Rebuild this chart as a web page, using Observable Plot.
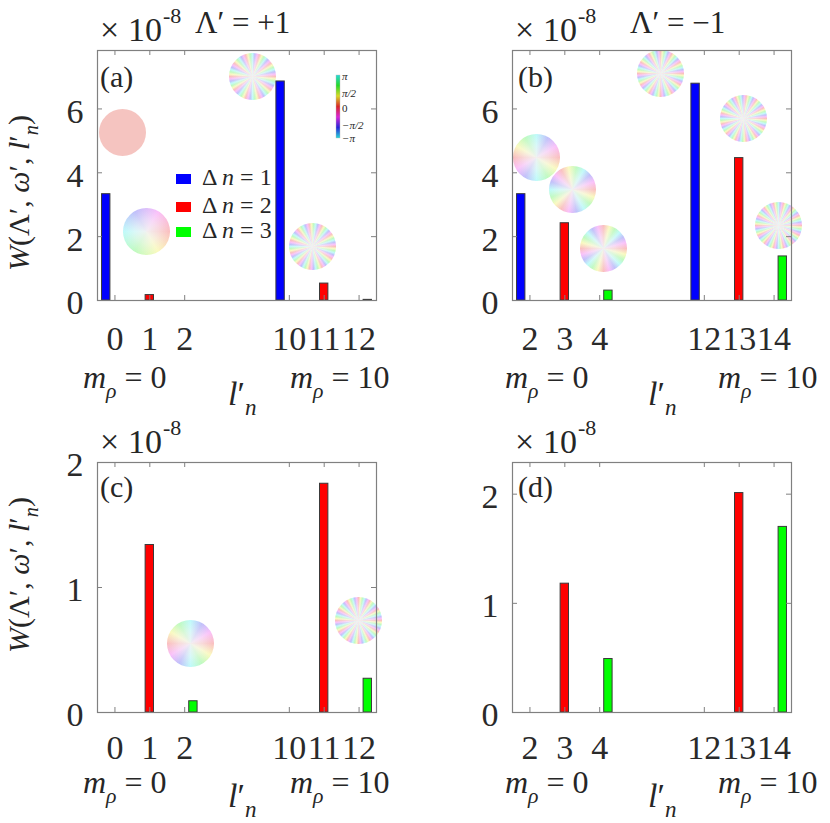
<!DOCTYPE html>
<html><head><meta charset="utf-8">
<script src="https://cdn.jsdelivr.net/npm/d3@7"></script>
<script src="https://cdn.jsdelivr.net/npm/@observablehq/plot@0.6"></script>
<style>
body{margin:0;background:#fff;}
#root{position:relative;width:830px;height:823px;overflow:hidden;font-family:'Liberation Serif';}
#root svg.pl{position:absolute;}
#root .wheel{position:absolute;border-radius:50%;filter:blur(0.4px);}
#overlay{position:absolute;left:0;top:0;}
</style></head><body><div id="root"></div>
<script>
const FONT = "'Liberation Serif'";
// ---------- data (W in units of 1e-8) ----------
const ticksPlus  = ["0","1","2","10","11","12"];   // l'_n for Λ' = +1
const ticksMinus = ["2","3","4","12","13","14"];   // l'_n for Λ' = -1
const slot = [1,2,3,6,7,8];                         // category slot of each l'_n
const deltaN = [1,2,3,1,2,3];                       // Δn of the bar at each l'_n
const wA = [3.33,0.17,0.00,6.86,0.53,0.02];
const wB = [3.33,2.42,0.31,6.79,4.46,1.38];
const wC = [0.00,1.34,0.09,0.00,1.83,0.27];
const wD = [0.00,1.18,0.49,0.00,2.01,1.70];
const yTicksAB = [0,2,4,6];
const yTicksC = [0,1,2];
const yTicksD = [0,1,2];
const seriesNames = ["Δn = 1","Δn = 2","Δn = 3"];
const seriesColors = ["#0000ff","#ff0000","#00ff00"];
// phase-wheel insets: winding number = l'_n
const wheelsA = [{x:1.24,y:5.25,w:0},{x:1.93,y:2.14,w:1},{x:4.96,y:7.0,w:10},{x:6.67,y:1.67,w:11}];
const wheelsB = [{x:1.21,y:4.47,w:2},{x:2.24,y:3.46,w:3},{x:3.13,y:1.6,w:4},{x:4.76,y:7.1,w:12},{x:7.13,y:5.7,w:13},{x:8.13,y:2.33,w:14}];
const wheelsC = [{x:3.19,y:0.55,w:2},{x:8.01,y:0.73,w:12}];
const wheelsD = [];

function wheelBackground(w){
  if(w===0) return "rgb(245,196,192)";
  const stops=[];
  const n=w*6;
  for(let k=0;k<=n;k++){
    const h=(k*60)%360;
    stops.push(`hsla(${h},100%,50%,0.26) ${(k/n*360).toFixed(2)}deg`);
  }
  return `radial-gradient(circle, rgba(242,242,242,0.95) 0%, rgba(246,246,246,0.55) 35%, rgba(255,255,255,0) 78%), conic-gradient(from 90deg, ${stops.join(",")}), #f9f9f9`;
}

const root=document.getElementById("root");
function panel({values,labels,yMax,yTicks,wheels,ox,oy,height,marginTop,pad}){
  const data=values.map((v,i)=>({slot:slot[i],dn:deltaN[i],v})).filter(d=>d.v>0);
  const fh=250;
  const chart=Plot.plot({
    width:415,height,marginLeft:97,marginRight:39,marginTop,marginBottom:height-marginTop-fh,
    x:{domain:[0.5,8.5],axis:null},y:{domain:[0,yMax],axis:null},
    style:`font-family:${FONT};background:transparent;overflow:visible;`,
    marks:[
      Plot.rectY(data,{x1:d=>d.slot+(d.dn-2)*0.25-0.12,x2:d=>d.slot+(d.dn-2)*0.25+0.12,y1:0,y2:"v",
        fill:d=>seriesColors[d.dn-1],stroke:"#3a3a3a",strokeWidth:1}),
      Plot.frame({stroke:"#808080",strokeWidth:1.2}),
      Plot.tickX(slot,{x:d=>d,insetTop:fh-5,stroke:"#808080"}),
      Plot.tickX(slot,{x:d=>d,insetBottom:fh-5,stroke:"#808080"}),
      Plot.tickY(yTicks,{y:d=>d,insetLeft:279-5,stroke:"#808080"}),
      Plot.tickY(yTicks,{y:d=>d,insetRight:279-5,stroke:"#808080"}),
      Plot.axisX(slot,{anchor:"bottom",tickSize:0,tickPadding:pad,fontSize:34,fontFamily:"Liberation Serif",fill:"#2a2a2a",
        tickFormat:d=>labels[slot.indexOf(d)],label:null}),
      Plot.axisY(yTicks,{anchor:"left",tickSize:0,tickPadding:14,fontSize:34,fontFamily:"Liberation Serif",fill:"#2a2a2a",dy:3,
        tickFormat:d=>String(d),label:null})
    ]
  });
  chart.classList.add("pl");
  chart.style.left=ox+"px"; chart.style.top=oy+"px";
  // phase wheels placed through the chart's own scales, beneath the svg
  const sx=chart.scale("x"), sy=chart.scale("y");
  for(const d of wheels){
    const el=document.createElement("div"); el.className="wheel";
    const cx=sx.apply(d.x), cy=sy.apply(d.y), r=23.5;
    el.style.left=(ox+cx-r)+"px"; el.style.top=(oy+cy-r)+"px";
    el.style.width=el.style.height=(2*r)+"px";
    el.style.background=wheelBackground(d.w);
    root.appendChild(el);
  }
  root.appendChild(chart);
}
panel({values:wA,labels:ticksPlus,yMax:7.83,yTicks:yTicksAB,wheels:wheelsA,ox:0,oy:0,height:410,marginTop:50,pad:25});
panel({values:wB,labels:ticksMinus,yMax:7.83,yTicks:yTicksAB,wheels:wheelsB,ox:415,oy:0,height:410,marginTop:50,pad:25});
panel({values:wC,labels:ticksPlus,yMax:2,yTicks:yTicksC,wheels:wheelsC,ox:0,oy:410,height:413,marginTop:52,pad:22});
panel({values:wD,labels:ticksMinus,yMax:2.29,yTicks:yTicksD,wheels:wheelsD,ox:415,oy:410,height:413,marginTop:52,pad:22});

// ---------- annotation text ----------
const svg=d3.select(root).append("svg").attr("id","overlay").attr("width",830).attr("height",823);
function rich(x,y,size,parts,attrs={}){
  const t=svg.append("text").attr("x",x).attr("y",y).attr("font-size",size).attr("fill","#262626")
    .attr("font-family","Liberation Serif").style("font-family",FONT).style("white-space","pre");
  for(const [k,v] of Object.entries(attrs)) t.attr(k,v);
  let shift=0;
  for(const p of parts){
    const [s,f=""]=Array.isArray(p)?p:[p,""];
    const ts=t.append("tspan").text(s);
    if(f.includes("i")) ts.attr("font-style","italic");
    const target=f.includes("sub")?0.3:f.includes("sup")?-0.5:0;
    if(target) ts.attr("font-size",size*0.68);
    const d=(target-shift)*size; if(d) ts.attr("dy",d); shift=target;
  }
  return t;
}
const panels=[{ox:0,oy:0,top:true,lab:"(a)",left:true},{ox:415,oy:0,top:true,lab:"(b)"},
  {ox:0,oy:410,top:false,lab:"(c)",left:true},{ox:415,oy:410,top:false,lab:"(d)"}];
for(const p of panels){
  const b=p.top?41:43;
  rich(p.ox+100,p.oy+b,34,["×"]);
  rich(p.ox+128,p.oy+b,34,["10"]);
  rich(p.ox+163,p.oy+b-18,22,["-8"]);
  rich(p.ox+(p.left?100:103),p.oy+87,30,[p.lab]);
  const mb=p.top?388:793-410;
  const dx=p.left?0:7;
  rich(p.ox+83+dx,p.oy+mb,32,[["m","i"],["ρ","i sub"],[" = 0"]]);
  rich(p.ox+290+(p.left?0:13),p.oy+mb,32,[["m","i"],["ρ","i sub"],[" = 10"]]);
  const lb=p.top?405:397;
  rich(p.ox+(p.left?228:233),p.oy+lb,34,[["l","i"],["′"],["n","i sub"]]);
  if(p.left){
    const cy=p.top?193:165;
    rich(0,0,30,[["W","i"],["(Λ′, "],["ω","i"],["′, "],["l","i"],["′"],["n","i sub"],[")"]],
      {"text-anchor":"middle",transform:`translate(29,${p.oy+cy}) rotate(-90)`});
  }
}
rich(195,33,31,["Λ′ = +1"]);
rich(630,33,31,["Λ′ = −1"]);
// legend in (a)
seriesNames.forEach((n,i)=>{
  const cy=[179,207,232][i];
  svg.append("rect").attr("x",176).attr("y",cy-5).attr("width",15).attr("height",10).attr("fill",seriesColors[i]);
  rich(202,cy+6,24,["Δ ",["n","i"],[" = "+(i+1)]]);
});
// phase colour bar in (a)
const defs=svg.append("defs");
const lg=defs.append("linearGradient").attr("id","phase").attr("x1",0).attr("y1",0).attr("x2",0).attr("y2",1);
[180,120,60,0,-60,-120,-180].forEach((h,i,a)=>lg.append("stop").attr("offset",i/(a.length-1)).attr("stop-color",d3.hsl((h+360)%360,0.7,0.5)));
svg.append("rect").attr("x",336).attr("y",75).attr("width",4).attr("height",63).attr("fill","url(#phase)").attr("stroke","#bbb").attr("stroke-width",0.4);
[["π",80],["π/2",97],["0",112],["−π/2",129],["−π",142]].forEach(([s,y])=>{
  rich(342,y,11,[s==="0"?[s]:[s,"i"]]);
});
</script></body></html>
